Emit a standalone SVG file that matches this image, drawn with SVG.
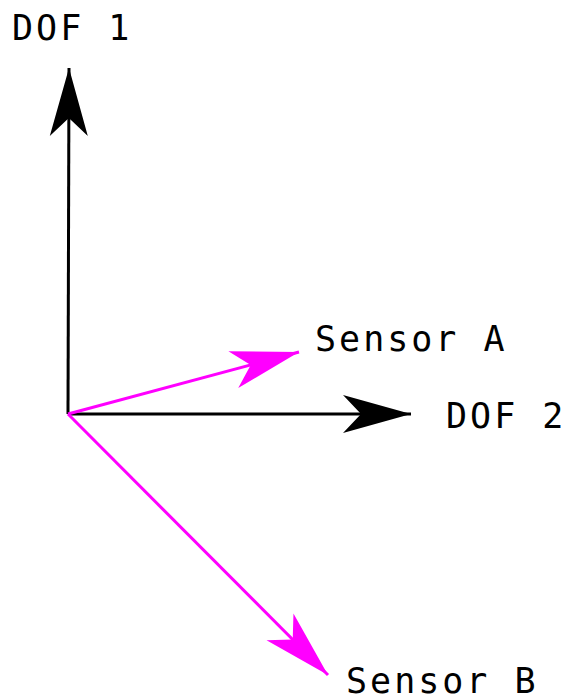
<svg xmlns="http://www.w3.org/2000/svg" width="567" height="700" viewBox="0 0 567 700">
<style>
text{font-family:"DejaVu Sans Mono","Liberation Mono",monospace;font-size:35px;letter-spacing:3px;fill:#000}
.ax{stroke:#000;stroke-width:3;fill:none}
.sn{stroke:#ff00ff;stroke-width:3;fill:none}
</style>
<defs>
<marker id="ak" markerUnits="userSpaceOnUse" orient="auto" markerWidth="80" markerHeight="50" refX="0" refY="0" viewBox="-70 -25 80 50" overflow="visible"><path d="M0,0 L-68,-19 L-50,0 L-68,19 Z" fill="#000"/></marker>
<marker id="am" markerUnits="userSpaceOnUse" orient="auto" markerWidth="80" markerHeight="50" refX="0" refY="0" viewBox="-70 -25 80 50" overflow="visible"><path d="M0,0 L-68,-19 L-50,0 L-68,19 Z" fill="#ff00ff"/></marker>
</defs>
<g id="connectors">
<line class="ax" x1="68" y1="414" x2="69" y2="68" marker-end="url(#ak)"/>
<line class="ax" x1="68" y1="414" x2="411" y2="414" marker-end="url(#ak)"/>
<line class="sn" x1="68" y1="414" x2="299" y2="352" marker-end="url(#am)"/>
<line class="sn" x1="68" y1="414" x2="328" y2="675" marker-end="url(#am)"/>
</g>
<g id="dof1"><text x="12" y="40">DOF 1</text></g>
<g id="dof2"><text x="446" y="428">DOF 2</text></g>
<g id="sensorA"><text x="315" y="351">Sensor A</text></g>
<g id="sensorB"><text x="346" y="693">Sensor B</text></g>
</svg>
